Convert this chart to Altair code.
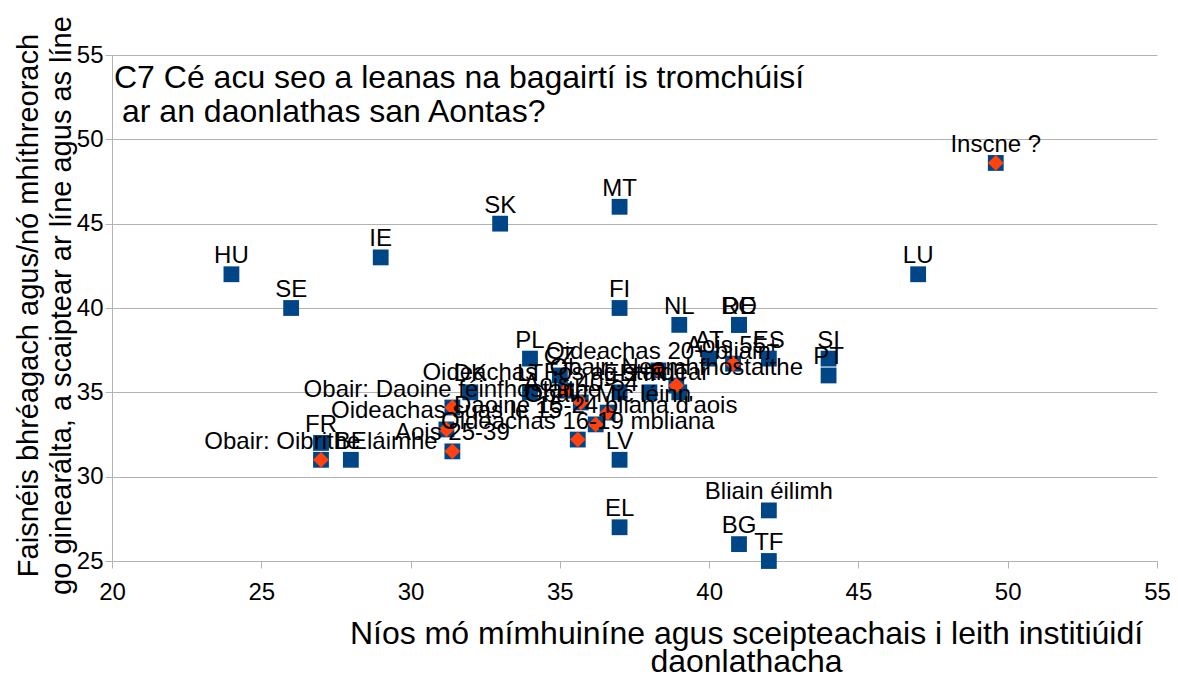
import altair as alt
import pandas as pd

# Countries (blue squares)
country_labels = ["HU", "SE", "IE", "SK", "MT", "FI", "NL", "RO", "DE", "LU",
                  "AT", "ES", "SI", "PT", "PL", "CZ", "DK", "LT", "EE", "HR",
                  "IT", "FR", "BE", "LV", "EL", "BG", "TF", "Bliain éilimh"]
country_x = [24, 26, 29, 33, 37, 37, 39, 41, 41, 47,
             40, 42, 44, 44, 34, 35, 32, 34, 37, 38,
             39, 27, 28, 37, 37, 41, 42, 42]
country_y = [42, 40, 43, 45, 46, 40, 39, 39, 39, 42,
             37, 37, 37, 36, 37, 36, 35, 35, 35, 35,
             35, 32, 31, 31, 27, 26, 25, 28]

# Socio-demographic groups (orange diamonds)
group_labels = ["Inscne ?", "Obair: Oibrithe láimhe", "Obair: Daoine féinfhostaithe",
                "Oideachas suas le 15", "Aois 25-39", "Oideachas Fós ag staidéar",
                "Aois 40-54", "Oideachas 16-19 mbliana", "Daoine 15-24 bliana d'aois",
                "Obair: Mic léinn", "Oideachas 20+ bliain", "Obair: Neamhfhostaithe",
                "Aois 55+"]
group_x = [49.6, 27.0, 31.4, 31.2, 31.4, 35.2, 35.7, 35.6, 36.2, 36.6, 38.3, 38.9, 40.8]
group_y = [48.6, 31.0, 34.1, 32.8, 31.5, 35.1, 34.4, 32.2, 33.1, 33.8, 36.3, 35.4, 36.7]

x_ticks = [20, 25, 30, 35, 40, 45, 50, 55]
y_ticks = [25, 30, 35, 40, 45, 50, 55]

title_line1 = "C7 Cé acu seo a leanas na bagairtí is tromchúisí"
title_line2 = "ar an daonlathas san Aontas?"
x_title = ["Níos mó mímhuiníne agus sceipteachais i leith institiúidí", "daonlathacha"]
y_title = ["Faisnéis bhréagach agus/nó mhíthreorach",
           "go ginearálta, a scaiptear ar líne agus as líne"]

rows = []
for l, x, y in zip(country_labels, country_x, country_y):
    rows.append({"label": l, "x": x, "y": y, "kind": "country"})
for l, x, y in zip(group_labels, group_x, group_y):
    rows.append({"label": l, "x": x, "y": y, "kind": "group"})
df = pd.DataFrame(rows)

FONT = "Liberation Sans"
GRID = "#b3b3b3"

xenc = alt.X("x:Q", scale=alt.Scale(domain=[20, 55], nice=False, zero=False),
             axis=alt.Axis(values=x_ticks, grid=False, title=x_title,
                           titleFont=FONT, titleFontSize=32, titleFontWeight="normal",
                           titleColor="black", titleX=634, titleY=82,
                           titleAlign="center", titleBaseline="alphabetic",
                           titleLineHeight=28,
                           labelFont=FONT, labelFontSize=24, labelColor="black",
                           labelPadding=12, tickSize=7, tickColor=GRID,
                           domainColor=GRID, labelFlush=False))
yenc = alt.Y("y:Q", scale=alt.Scale(domain=[25, 55], nice=False, zero=False),
             axis=alt.Axis(values=y_ticks, grid=True, gridColor=GRID, title=y_title,
                           titleFont=FONT, titleFontSize=29, titleFontWeight="normal",
                           titleColor="black", titleX=-98, titleY=250,
                           titleAlign="center", titleBaseline="top", titleLineHeight=33,
                           labelFont=FONT, labelFontSize=24, labelColor="black",
                           labelPadding=2, tickSize=7, tickColor=GRID,
                           domainColor=GRID, labelFlush=False))

base = alt.Chart(df)

squares = base.mark_point(shape="square", filled=True, size=250, color="#004586",
                          opacity=1, strokeWidth=0).encode(x=xenc, y=yenc)
diamonds = base.transform_filter(alt.datum.kind == "group").mark_point(
    shape="diamond", filled=True, size=250, color="#ff420e", opacity=1, strokeWidth=0
).encode(x=xenc, y=yenc)
labels = base.mark_text(font=FONT, fontSize=24, color="black", baseline="alphabetic",
                        dy=-11).encode(x=xenc, y=yenc, text="label:N")

one = pd.DataFrame({"a": [0]})
title1 = alt.Chart(one).mark_text(
    text=title_line1, font=FONT, fontSize=32, color="black", align="left",
    baseline="alphabetic"
).encode(x=alt.value(2), y=alt.value(33))
title2 = alt.Chart(one).mark_text(
    text=title_line2, font=FONT, fontSize=32, color="black", align="left",
    baseline="alphabetic"
).encode(x=alt.value(10), y=alt.value(67))

chart = alt.layer(squares, diamonds, labels, title1, title2).properties(
    width=1045, height=506,
    autosize=alt.AutoSizeParams(type="none"),
    padding={"left": 104, "top": 47, "right": 13, "bottom": 113},
).configure_view(stroke=None)

chart.save("out.html", embed_options={"renderer": "svg", "actions": False})
